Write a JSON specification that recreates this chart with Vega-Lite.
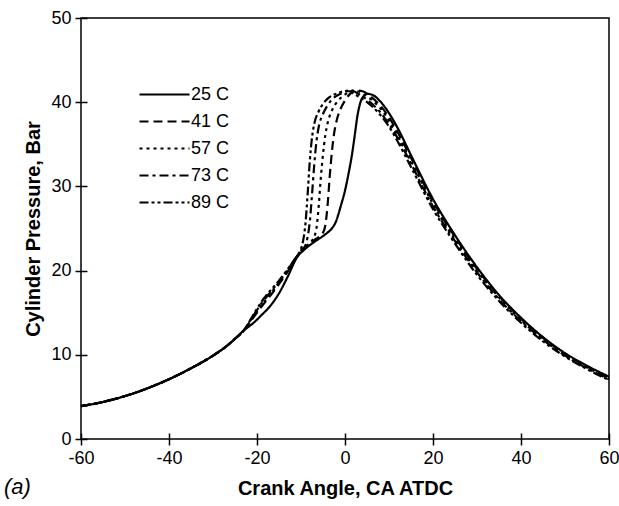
{
"$schema": "https://vega.github.io/schema/vega-lite/v6.json",
"width": 528, "height": 421,
"autosize": {"type": "none"},
"padding": {"left": 81, "top": 18, "right": 10, "bottom": 67},
"background": "white",
"config": {
  "font": "Liberation Sans",
  "view": {"stroke": "black", "strokeWidth": 1.5},
  "axis": {"domain": false, "offset": -6, "tickColor": "black", "tickWidth": 1.5, "tickSize": 12, "grid": false,
    "labelColor": "black", "labelFontSize": 18, "labelFont": "Liberation Sans",
    "titleColor": "black", "titleFontSize": 20, "titleFontWeight": "bold", "titleFont": "Liberation Sans"}
},
"title": {"text": "(a)", "orient": "bottom", "anchor": "start", "frame": "group", "dx": -77, "offset": -21,
  "fontStyle": "italic", "fontWeight": "normal", "fontSize": 22, "font": "Liberation Sans", "color": "black"},
"data": {"values": [
{"s":"25 C","x":-60,"y":3.9},{"s":"25 C","x":-55,"y":4.4},{"s":"25 C","x":-50,"y":5.1},{"s":"25 C","x":-45,"y":6.0},{"s":"25 C","x":-40,"y":7.1},{"s":"25 C","x":-35,"y":8.4},{"s":"25 C","x":-30,"y":9.9},{"s":"25 C","x":-27,"y":11.0},{"s":"25 C","x":-25,"y":11.9},{"s":"25 C","x":-23,"y":12.9},
{"s":"25 C","x":-21,"y":13.7},{"s":"25 C","x":-19,"y":14.7},{"s":"25 C","x":-17,"y":15.8},{"s":"25 C","x":-15,"y":17.3},{"s":"25 C","x":-13,"y":19.3},{"s":"25 C","x":-11,"y":21.5},{"s":"25 C","x":-9,"y":22.6},{"s":"25 C","x":-7,"y":23.4},{"s":"25 C","x":-5,"y":24.1},{"s":"25 C","x":-4,"y":24.5},{"s":"25 C","x":-3,"y":25.0},{"s":"25 C","x":-2,"y":25.9},{"s":"25 C","x":-1.5,"y":26.7},{"s":"25 C","x":-1,"y":27.6},{"s":"25 C","x":0,"y":29.5},{"s":"25 C","x":0.8,"y":31.5},{"s":"25 C","x":1.5,"y":33.5},{"s":"25 C","x":2.2,"y":36.0},{"s":"25 C","x":2.8,"y":38.3},{"s":"25 C","x":3.4,"y":39.8},{"s":"25 C","x":4.2,"y":40.7},{"s":"25 C","x":5,"y":41.0},{"s":"25 C","x":6.5,"y":40.8},{"s":"25 C","x":8,"y":40.1},{"s":"25 C","x":10,"y":38.7},{"s":"25 C","x":12,"y":36.9},{"s":"25 C","x":15,"y":33.7},{"s":"25 C","x":20,"y":28.5},{"s":"25 C","x":25,"y":24.2},{"s":"25 C","x":30,"y":20.4},{"s":"25 C","x":35,"y":17.1},{"s":"25 C","x":40,"y":14.4},{"s":"25 C","x":45,"y":12.1},{"s":"25 C","x":50,"y":10.2},{"s":"25 C","x":55,"y":8.7},{"s":"25 C","x":60,"y":7.4},
{"s":"41 C","x":-60,"y":3.9},{"s":"41 C","x":-55,"y":4.4},{"s":"41 C","x":-50,"y":5.1},{"s":"41 C","x":-45,"y":6.0},{"s":"41 C","x":-40,"y":7.1},{"s":"41 C","x":-35,"y":8.4},{"s":"41 C","x":-30,"y":9.9},{"s":"41 C","x":-27,"y":11.0},{"s":"41 C","x":-25,"y":11.9},{"s":"41 C","x":-23,"y":12.9},
{"s":"41 C","x":-21,"y":14.3},{"s":"41 C","x":-19,"y":15.7},{"s":"41 C","x":-17,"y":17.0},{"s":"41 C","x":-15,"y":18.4},{"s":"41 C","x":-13,"y":19.9},{"s":"41 C","x":-11,"y":21.55},{"s":"41 C","x":-9,"y":22.7},{"s":"41 C","x":-7,"y":23.6},{"s":"41 C","x":-5,"y":24.5},{"s":"41 C","x":-4.5,"y":25.3},{"s":"41 C","x":-4,"y":27.5},{"s":"41 C","x":-3.5,"y":31.0},{"s":"41 C","x":-3,"y":34.0},{"s":"41 C","x":-2.5,"y":36.2},{"s":"41 C","x":-2,"y":37.6},{"s":"41 C","x":-1,"y":39.2},{"s":"41 C","x":0,"y":40.2},{"s":"41 C","x":1,"y":40.9},{"s":"41 C","x":2.5,"y":41.4},{"s":"41 C","x":4,"y":41.3},{"s":"41 C","x":6,"y":40.6},{"s":"41 C","x":8,"y":39.6},{"s":"41 C","x":10,"y":38.2},{"s":"41 C","x":12,"y":36.4},{"s":"41 C","x":15,"y":33.4},{"s":"41 C","x":20,"y":28.2},{"s":"41 C","x":25,"y":24.0},{"s":"41 C","x":30,"y":20.2},{"s":"41 C","x":35,"y":17.0},{"s":"41 C","x":40,"y":14.3},{"s":"41 C","x":45,"y":12.0},{"s":"41 C","x":50,"y":10.1},{"s":"41 C","x":55,"y":8.6},{"s":"41 C","x":60,"y":7.3},
{"s":"57 C","x":-60,"y":3.9},{"s":"57 C","x":-55,"y":4.4},{"s":"57 C","x":-50,"y":5.1},{"s":"57 C","x":-45,"y":6.0},{"s":"57 C","x":-40,"y":7.1},{"s":"57 C","x":-35,"y":8.4},{"s":"57 C","x":-30,"y":9.9},{"s":"57 C","x":-27,"y":11.0},{"s":"57 C","x":-25,"y":11.9},{"s":"57 C","x":-23,"y":12.9},
{"s":"57 C","x":-21,"y":14.4},{"s":"57 C","x":-19,"y":15.9},{"s":"57 C","x":-17,"y":17.2},{"s":"57 C","x":-15,"y":18.6},{"s":"57 C","x":-13,"y":20.0},{"s":"57 C","x":-11,"y":21.6},{"s":"57 C","x":-9,"y":22.8},{"s":"57 C","x":-8,"y":23.3},{"s":"57 C","x":-7,"y":24.0},{"s":"57 C","x":-6.5,"y":25.0},{"s":"57 C","x":-6,"y":27.5},{"s":"57 C","x":-5.5,"y":31.0},{"s":"57 C","x":-5,"y":33.8},{"s":"57 C","x":-4.5,"y":36.0},{"s":"57 C","x":-4,"y":37.4},{"s":"57 C","x":-3,"y":39.0},{"s":"57 C","x":-2,"y":39.9},{"s":"57 C","x":0,"y":40.9},{"s":"57 C","x":2,"y":41.4},{"s":"57 C","x":3,"y":41.3},{"s":"57 C","x":4,"y":41.0},{"s":"57 C","x":6,"y":40.3},{"s":"57 C","x":8,"y":39.3},{"s":"57 C","x":10,"y":37.8},{"s":"57 C","x":12,"y":36.0},{"s":"57 C","x":15,"y":33.0},{"s":"57 C","x":20,"y":27.9},{"s":"57 C","x":25,"y":23.7},{"s":"57 C","x":30,"y":20.0},{"s":"57 C","x":35,"y":16.8},{"s":"57 C","x":40,"y":14.1},{"s":"57 C","x":45,"y":11.9},{"s":"57 C","x":50,"y":10.0},{"s":"57 C","x":55,"y":8.5},{"s":"57 C","x":60,"y":7.2},
{"s":"73 C","x":-60,"y":3.9},{"s":"73 C","x":-55,"y":4.4},{"s":"73 C","x":-50,"y":5.1},{"s":"73 C","x":-45,"y":6.0},{"s":"73 C","x":-40,"y":7.1},{"s":"73 C","x":-35,"y":8.4},{"s":"73 C","x":-30,"y":9.9},{"s":"73 C","x":-27,"y":11.0},{"s":"73 C","x":-25,"y":11.9},{"s":"73 C","x":-23,"y":12.9},
{"s":"73 C","x":-21,"y":14.5},{"s":"73 C","x":-19,"y":16.1},{"s":"73 C","x":-17,"y":17.4},{"s":"73 C","x":-15,"y":18.7},{"s":"73 C","x":-13,"y":20.1},{"s":"73 C","x":-11,"y":21.65},{"s":"73 C","x":-10,"y":22.4},{"s":"73 C","x":-9,"y":23.0},{"s":"73 C","x":-8.5,"y":24.0},{"s":"73 C","x":-8,"y":25.8},{"s":"73 C","x":-7.5,"y":29.0},{"s":"73 C","x":-7,"y":32.5},{"s":"73 C","x":-6.5,"y":35.3},{"s":"73 C","x":-6,"y":37.0},{"s":"73 C","x":-5,"y":38.6},{"s":"73 C","x":-4,"y":39.6},{"s":"73 C","x":-3,"y":40.3},{"s":"73 C","x":-1,"y":41.0},{"s":"73 C","x":1,"y":41.4},{"s":"73 C","x":2,"y":41.3},{"s":"73 C","x":3,"y":41.0},{"s":"73 C","x":5,"y":40.3},{"s":"73 C","x":8,"y":38.8},{"s":"73 C","x":10,"y":37.4},{"s":"73 C","x":12,"y":35.7},{"s":"73 C","x":15,"y":32.7},{"s":"73 C","x":20,"y":27.6},{"s":"73 C","x":25,"y":23.5},{"s":"73 C","x":30,"y":19.8},{"s":"73 C","x":35,"y":16.6},{"s":"73 C","x":40,"y":14.0},{"s":"73 C","x":45,"y":11.8},{"s":"73 C","x":50,"y":9.9},{"s":"73 C","x":55,"y":8.4},{"s":"73 C","x":60,"y":7.1},
{"s":"89 C","x":-60,"y":3.9},{"s":"89 C","x":-55,"y":4.4},{"s":"89 C","x":-50,"y":5.1},{"s":"89 C","x":-45,"y":6.0},{"s":"89 C","x":-40,"y":7.1},{"s":"89 C","x":-35,"y":8.4},{"s":"89 C","x":-30,"y":9.9},{"s":"89 C","x":-27,"y":11.0},{"s":"89 C","x":-25,"y":11.9},{"s":"89 C","x":-23,"y":12.9},
{"s":"89 C","x":-21,"y":14.6},{"s":"89 C","x":-19,"y":16.3},{"s":"89 C","x":-17,"y":17.6},{"s":"89 C","x":-15,"y":18.8},{"s":"89 C","x":-13,"y":20.2},{"s":"89 C","x":-11,"y":21.7},{"s":"89 C","x":-10,"y":22.6},{"s":"89 C","x":-9.5,"y":23.6},{"s":"89 C","x":-9,"y":25.5},{"s":"89 C","x":-8.5,"y":29.0},{"s":"89 C","x":-8,"y":33.0},{"s":"89 C","x":-7.5,"y":35.8},{"s":"89 C","x":-7,"y":37.4},{"s":"89 C","x":-6,"y":38.9},{"s":"89 C","x":-5,"y":39.8},{"s":"89 C","x":-4,"y":40.4},{"s":"89 C","x":-2,"y":41.0},{"s":"89 C","x":0,"y":41.3},{"s":"89 C","x":1,"y":41.3},{"s":"89 C","x":2,"y":41.0},{"s":"89 C","x":3,"y":40.7},{"s":"89 C","x":5,"y":40.0},{"s":"89 C","x":8,"y":38.5},{"s":"89 C","x":10,"y":37.1},{"s":"89 C","x":12,"y":35.3},{"s":"89 C","x":15,"y":32.3},{"s":"89 C","x":20,"y":27.3},{"s":"89 C","x":25,"y":23.2},{"s":"89 C","x":30,"y":19.5},{"s":"89 C","x":35,"y":16.4},{"s":"89 C","x":40,"y":13.8},{"s":"89 C","x":45,"y":11.6},{"s":"89 C","x":50,"y":9.8},{"s":"89 C","x":55,"y":8.3},{"s":"89 C","x":60,"y":7.0}
]},
"mark": {"type": "line", "color": "black", "strokeWidth": 2.2, "interpolate": "monotone"},
"encoding": {
  "x": {"field": "x", "type": "quantitative", "scale": {"domain": [-60, 60], "nice": false},
    "axis": {"values": [-60, -40, -20, 0, 20, 40, 60], "labelExpr": "'' + datum.value", "title": "Crank Angle, CA ATDC", "labelPadding": 4, "titlePadding": 11, "labelFlush": false}},
  "y": {"field": "y", "type": "quantitative", "scale": {"domain": [0, 50], "nice": false},
    "axis": {"values": [0, 10, 20, 30, 40, 50], "title": "Cylinder Pressure, Bar", "labelPadding": 4, "titlePadding": 7, "labelFlush": false}},
  "strokeDash": {"field": "s", "type": "nominal",
    "scale": {"domain": ["25 C", "41 C", "57 C", "73 C", "89 C"], "range": [[1, 0], [9, 5], [3, 4], [9, 4, 3, 4], [9, 3, 3, 3, 3, 3]]},
    "legend": {"orient": "none", "legendX": 57, "legendY": 63, "title": null, "symbolType": "stroke", "symbolSize": 2500,
      "symbolStrokeWidth": 2.2, "symbolStrokeColor": "black", "labelFontSize": 18, "labelFont": "Liberation Sans", "labelColor": "black",
      "labelOffset": 0, "rowPadding": 0, "clipHeight": 27}}
}
}
